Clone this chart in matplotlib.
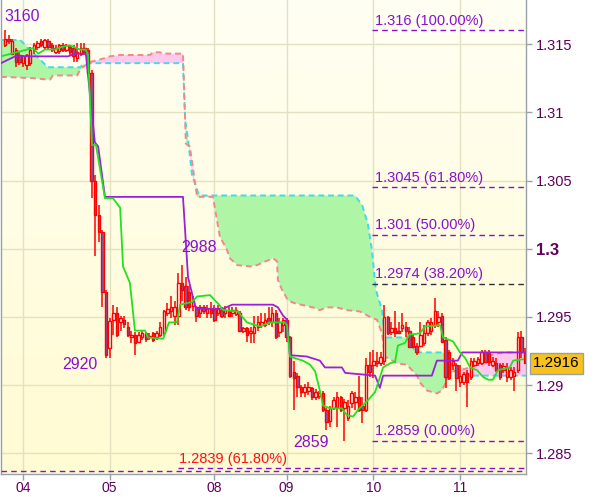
import numpy as np
import matplotlib
matplotlib.use("Agg")
import matplotlib.pyplot as plt
from matplotlib.colors import LinearSegmentedColormap

plt.rcParams['font.family'] = ['Liberation Sans', 'DejaVu Sans']

# ---------------- data ----------------
first_bar = -5  # bar index of first candle (day "04" starts at bar 0)

opens = [1.3149, 1.3154, 1.3143, 1.3146, 1.3142, 1.3136, 1.3135, 1.3136, 1.3146, 1.3148,
         1.3152, 1.3148, 1.3152, 1.3149, 1.3144, 1.3145, 1.3149, 1.3146, 1.3148, 1.3147,
         1.3140, 1.3143, 1.3147, 1.3146, 1.3129, 1.3050, 1.3025, 1.3012, 1.2968, 1.2927,
         1.2948, 1.2953, 1.2946, 1.2948, 1.2943, 1.2935, 1.2937, 1.2932, 1.2935, 1.2938,
         1.2935, 1.2938, 1.2935, 1.2937, 1.2938, 1.2953, 1.2954, 1.2951, 1.2951, 1.2975,
         1.2973, 1.2968, 1.2958, 1.2957, 1.2953, 1.2957, 1.2953, 1.2956, 1.2956, 1.2953,
         1.2955, 1.2953, 1.2954, 1.2953, 1.2952, 1.2953, 1.2940, 1.2942, 1.2938, 1.2938,
         1.2943, 1.2944, 1.2944, 1.2949, 1.2946, 1.2953, 1.2939, 1.2944, 1.2948, 1.2935,
         1.2910, 1.2907, 1.2899, 1.2895, 1.2896, 1.2898, 1.2891, 1.2892, 1.2894, 1.2882,
         1.2874, 1.2883, 1.2884, 1.2891, 1.2883, 1.2876, 1.2887, 1.2888, 1.2891, 1.2885,
         1.2882, 1.2915, 1.2915, 1.2916, 1.2916, 1.2918, 1.2950, 1.2939, 1.2942, 1.2940,
         1.2942, 1.2943, 1.2940, 1.2935, 1.2929, 1.2929, 1.2931, 1.2938, 1.2940, 1.2944,
         1.2946, 1.2951, 1.2933, 1.2924, 1.2915, 1.2915, 1.2902, 1.2902, 1.2909, 1.2906,
         1.2915, 1.2916, 1.2916, 1.2924, 1.2924, 1.2915, 1.2916, 1.2915, 1.2911, 1.2906,
         1.2906, 1.2907, 1.2911, 1.2935, 1.2924]
highs = [1.3160, 1.3157, 1.3154, 1.3147, 1.3144, 1.3142, 1.3143, 1.3148, 1.3151, 1.3152,
         1.3154, 1.3154, 1.3154, 1.3151, 1.3149, 1.3150, 1.3151, 1.3150, 1.3149, 1.3149,
         1.3151, 1.3151, 1.3151, 1.3147, 1.3131, 1.3054, 1.3032, 1.3014, 1.2970, 1.2949,
         1.2959, 1.2957, 1.2951, 1.2951, 1.2946, 1.2940, 1.2939, 1.2939, 1.2940, 1.2939,
         1.2938, 1.2939, 1.2940, 1.2946, 1.2955, 1.2960, 1.2965, 1.2962, 1.2982, 1.2988,
         1.2979, 1.2973, 1.2965, 1.2958, 1.2959, 1.2959, 1.2959, 1.2961, 1.2959, 1.2959,
         1.2957, 1.2958, 1.2957, 1.2957, 1.2957, 1.2954, 1.2943, 1.2943, 1.2943, 1.2951,
         1.2951, 1.2953, 1.2953, 1.2957, 1.2957, 1.2955, 1.2949, 1.2949, 1.2949, 1.2936,
         1.2918, 1.2909, 1.2900, 1.2901, 1.2902, 1.2899, 1.2897, 1.2896, 1.2896, 1.2883,
         1.2885, 1.2891, 1.2895, 1.2892, 1.2890, 1.2889, 1.2896, 1.2895, 1.2907, 1.2891,
         1.2920, 1.2924, 1.2926, 1.2924, 1.2924, 1.2959, 1.2951, 1.2946, 1.2954, 1.2946,
         1.2953, 1.2946, 1.2943, 1.2937, 1.2931, 1.2946, 1.2944, 1.2948, 1.2949, 1.2964,
         1.2954, 1.2953, 1.2935, 1.2926, 1.2920, 1.2916, 1.2915, 1.2910, 1.2911, 1.2920,
         1.2920, 1.2921, 1.2926, 1.2926, 1.2926, 1.2921, 1.2920, 1.2916, 1.2916, 1.2916,
         1.2913, 1.2913, 1.2939, 1.2940, 1.2927]
lows = [1.3148, 1.3150, 1.3142, 1.3133, 1.3135, 1.3133, 1.3131, 1.3134, 1.3143, 1.3146,
        1.3148, 1.3146, 1.3146, 1.3144, 1.3143, 1.3143, 1.3144, 1.3144, 1.3142, 1.3137,
        1.3137, 1.3141, 1.3142, 1.3127, 1.3037, 1.2995, 1.3005, 1.2957, 1.2920, 1.2920,
        1.2937, 1.2935, 1.2940, 1.2942, 1.2935, 1.2931, 1.2922, 1.2931, 1.2933, 1.2932,
        1.2933, 1.2932, 1.2933, 1.2935, 1.2936, 1.2951, 1.2949, 1.2944, 1.2944, 1.2962,
        1.2955, 1.2954, 1.2954, 1.2946, 1.2949, 1.2952, 1.2949, 1.2949, 1.2946, 1.2951,
        1.2949, 1.2949, 1.2950, 1.2950, 1.2951, 1.2939, 1.2938, 1.2932, 1.2931, 1.2931,
        1.2940, 1.2942, 1.2943, 1.2944, 1.2943, 1.2934, 1.2935, 1.2939, 1.2932, 1.2905,
        1.2882, 1.2891, 1.2891, 1.2891, 1.2893, 1.2889, 1.2889, 1.2890, 1.2880, 1.2867,
        1.2869, 1.2882, 1.2869, 1.2880, 1.2859, 1.2874, 1.2883, 1.2882, 1.2880, 1.2872,
        1.2880, 1.2906, 1.2905, 1.2913, 1.2914, 1.2915, 1.2937, 1.2937, 1.2935, 1.2938,
        1.2939, 1.2935, 1.2927, 1.2927, 1.2922, 1.2928, 1.2929, 1.2936, 1.2937, 1.2942,
        1.2943, 1.2931, 1.2898, 1.2904, 1.2911, 1.2896, 1.2899, 1.2900, 1.2884, 1.2904,
        1.2913, 1.2914, 1.2915, 1.2916, 1.2914, 1.2913, 1.2910, 1.2904, 1.2909, 1.2902,
        1.2904, 1.2896, 1.2909, 1.2920, 1.2916]
closes = [1.3154, 1.3152, 1.3152, 1.3137, 1.3137, 1.3141, 1.3142, 1.3146, 1.3149, 1.3151,
          1.3149, 1.3153, 1.3148, 1.3146, 1.3147, 1.3149, 1.3146, 1.3149, 1.3144, 1.3141,
          1.3144, 1.3147, 1.3144, 1.3129, 1.3050, 1.3025, 1.3012, 1.2968, 1.2922, 1.2947,
          1.2953, 1.2937, 1.2949, 1.2945, 1.2937, 1.2937, 1.2931, 1.2937, 1.2938, 1.2934,
          1.2936, 1.2933, 1.2938, 1.2943, 1.2954, 1.2956, 1.2957, 1.2957, 1.2975, 1.2970,
          1.2957, 1.2957, 1.2962, 1.2951, 1.2957, 1.2954, 1.2956, 1.2953, 1.2948, 1.2956,
          1.2951, 1.2955, 1.2951, 1.2955, 1.2955, 1.2940, 1.2942, 1.2937, 1.2940, 1.2943,
          1.2946, 1.2946, 1.2948, 1.2946, 1.2953, 1.2935, 1.2946, 1.2948, 1.2935, 1.2907,
          1.2905, 1.2899, 1.2895, 1.2899, 1.2899, 1.2891, 1.2895, 1.2894, 1.2882, 1.2873,
          1.2883, 1.2889, 1.2891, 1.2882, 1.2888, 1.2885, 1.2894, 1.2891, 1.2882, 1.2882,
          1.2915, 1.2910, 1.2918, 1.2918, 1.2921, 1.2950, 1.2938, 1.2942, 1.2938, 1.2938,
          1.2944, 1.2940, 1.2928, 1.2928, 1.2924, 1.2937, 1.2938, 1.2946, 1.2946, 1.2954,
          1.2950, 1.2932, 1.2906, 1.2905, 1.2918, 1.2905, 1.2907, 1.2908, 1.2902, 1.2918,
          1.2918, 1.2919, 1.2924, 1.2917, 1.2917, 1.2918, 1.2911, 1.2906, 1.2914, 1.2913,
          1.2911, 1.2910, 1.2935, 1.2924, 1.2916]

# Ichimoku lines as (bar, price) vertices
tenkan_x = [-6.1, 1.1, 2.8, 4.2, 6.1, 8.9, 10.8, 13.0, 15.8, 17.4, 18.0, 19.1, 20.2, 22.7, 24.9,
            26.9, 27.7, 29.6, 31.0, 33.8, 34.6, 38.8, 39.9, 40.4, 42.6, 43.5, 46.8, 48.2, 51.8,
            53.2, 54.3, 55.4, 59.5, 62.0, 65.6, 68.4, 72.5, 73.1, 73.9, 77.5, 79.5, 80.9, 82.2,
            83.1, 85.0, 88.3, 89.7, 91.4, 92.8, 95.2, 97.5, 99.7, 101.6, 103.0, 103.8, 105.8,
            106.9, 109.9, 111.3, 115.5, 116.3, 119.1, 121.0, 122.4, 123.8, 125.7, 127.4, 128.8,
            130.1, 131.5, 134.8, 135.7, 138.4]
tenkan_y = [1.3141, 1.3146, 1.3147, 1.3143, 1.3146, 1.3146, 1.3148, 1.3149, 1.3146, 1.3146,
            1.3142, 1.3076, 1.3076, 1.3037, 1.3037, 1.3030, 1.2987, 1.2975, 1.2940, 1.2940,
            1.2935, 1.2934, 1.2942, 1.2946, 1.2946, 1.2959, 1.2961, 1.2965, 1.2966, 1.2962,
            1.2959, 1.2955, 1.2954, 1.2946, 1.2943, 1.2946, 1.2946, 1.2944, 1.2921, 1.2918,
            1.2915, 1.2910, 1.2896, 1.2885, 1.2883, 1.2883, 1.2878, 1.2877, 1.2882, 1.2888,
            1.2895, 1.2913, 1.2916, 1.2917, 1.2929, 1.2931, 1.2937, 1.2938, 1.2943, 1.2944,
            1.2935, 1.2932, 1.2924, 1.2920, 1.2913, 1.2911, 1.2906, 1.2904, 1.2904, 1.2911,
            1.2913, 1.2918, 1.2919]

kijun_x = [-6.1, -2.2, 12.5, 14.4, 17.4, 19.9, 20.8, 22.7, 44.3, 45.7, 47.1, 47.9, 55.4, 57.9,
           69.2, 70.6, 72.0, 73.1, 73.9, 78.6, 82.2, 83.6, 88.3, 89.2, 97.5, 98.8, 99.7, 113.2,
           114.6, 120.4, 121.6, 139.3]
kijun_y = [1.3136, 1.3141, 1.3141, 1.3143, 1.3143, 1.3078, 1.3075, 1.3038, 1.3038, 1.2979,
           1.2964, 1.2956, 1.2956, 1.2959, 1.2959, 1.2957, 1.2951, 1.2948, 1.2922, 1.2921,
           1.2918, 1.2913, 1.2913, 1.2909, 1.2907, 1.2898, 1.2907, 1.2907, 1.2918, 1.2918,
           1.2924, 1.2924]

span_a_x = [-6.1, 2.8, 6.6, 7.5, 8.3, 15.0, 15.8, 16.6, 18.6, 20.5, 24.1, 26.9, 35.2, 36.0,
            37.9, 38.8, 44.3, 45.1, 46.2, 48.2, 52.6, 53.7, 54.5, 56.5, 57.3, 59.3, 62.9, 64.8,
            66.5, 69.2, 70.3, 70.6, 71.7, 73.4, 75.3, 80.3, 82.2, 84.2, 86.9, 89.7, 93.3, 96.1,
            98.0, 99.4, 100.2, 103.6, 106.3, 109.1, 109.9, 111.9, 114.6, 116.0, 117.4, 119.1,
            121.0, 123.8, 126.5, 129.3, 132.9, 139.3]
span_a_y = [1.3126, 1.3125, 1.3124, 1.3124, 1.3127, 1.3127, 1.3131, 1.3133, 1.3137, 1.3138,
            1.3141, 1.3142, 1.3142, 1.3144, 1.3144, 1.3143, 1.3143, 1.3077, 1.3075, 1.3038,
            1.3038, 1.3021, 1.3009, 1.2999, 1.2993, 1.2988, 1.2987, 1.2988, 1.2990, 1.2993,
            1.2991, 1.2977, 1.2970, 1.2962, 1.2960, 1.2957, 1.2955, 1.2957, 1.2957, 1.2955,
            1.2954, 1.2950, 1.2948, 1.2938, 1.2921, 1.2916, 1.2915, 1.2907, 1.2902, 1.2896,
            1.2894, 1.2896, 1.2904, 1.2910, 1.2911, 1.2913, 1.2918, 1.2922, 1.2924, 1.2924]

span_b_x = [-6.1, -0.8, 6.9, 15.8, 16.6, 18.6, 44.3, 44.9, 45.7, 46.8, 48.5,
            49.0, 91.9, 93.9, 95.5, 96.6, 97.7, 99.4, 100.2, 106.3, 107.7, 108.5, 116.3, 120.2,
            123.8, 139.3]
span_b_y = [1.3153, 1.3153, 1.3133, 1.3133, 1.3135, 1.3136, 1.3136,
            1.3094, 1.3080, 1.3054, 1.3041, 1.3039, 1.3039, 1.3032, 1.3018, 1.2999, 1.2970,
            1.2955, 1.2935, 1.2935, 1.2929, 1.2924, 1.2924, 1.2909, 1.2907, 1.2907]

# Fibonacci levels
fib_levels = [1.316, 1.3045, 1.301, 1.2974, 1.2859]
fib_pcts = ['100.00%', '61.80%', '50.00%', '38.20%', '0.00%']
fib2_levels = [1.2839, 1.2837]
fib2_label = '1.2839 (61.80%)'

# price extremes labels
extreme_labels = ['3160', '2920', '2988', '2859']
last_price = '1.2916'

# axis ticks
day_ticks = [0, 24, 53, 73, 97, 121]
day_labels = ['04', '05', '08', '09', '10', '11']
price_ticks = [1.285, 1.29, 1.295, 1.3, 1.305, 1.31, 1.315]
price_labels = ['1.285', '1.29', '1.295', '1.3', '1.305', '1.31', '1.315']

# ---------------- figure ----------------
W, H = 600, 497
fig = plt.figure(figsize=(W / 100, H / 100), dpi=100)
fig.patch.set_facecolor('white')
ax = fig.add_axes([1 / W, 1 - 474 / H, 525 / W, 474 / H])

XMIN, XMAX = -6.09, 139.27
YMIN, YMAX = 1.28349, 1.31823

# background gradient
grad = np.linspace(0, 1, 256).reshape(-1, 1)
cmap_bg = LinearSegmentedColormap.from_list('bg', ['#FFFFF3', '#FFFBD2'])
ax.imshow(grad, extent=[XMIN, XMAX, YMIN, YMAX], aspect='auto', cmap=cmap_bg,
          origin='upper', zorder=0, interpolation='bilinear')

# grid
for t in day_ticks:
    ax.axvline(t, color='#E2E2C2', lw=1, zorder=1)
for t in price_ticks:
    ax.axhline(t, color='#E2E2C2', lw=1, zorder=1)

# cloud
xs = np.linspace(XMIN, XMAX, 3000)
a = np.interp(xs, span_a_x, span_a_y)
b = np.interp(xs, span_b_x, span_b_y)
ax.fill_between(xs, a, b, where=b >= a, interpolate=True, color='#AEF5A6', lw=0, zorder=2)
ax.fill_between(xs, a, b, where=a > b, interpolate=True, color='#FFC8EC', lw=0, zorder=2)
ax.plot(span_b_x, span_b_y, color='#3CDCEC', lw=1.4, dashes=(3, 2), zorder=3)
ax.plot(span_a_x, span_a_y, color='#F08A8A', lw=1.4, dashes=(3, 2), zorder=3)

# fib lines
fib_x0 = 96.6
for lvl, pct in zip(fib_levels, fib_pcts):
    col = '#303030' if pct == '38.20%' else '#8A10D0'
    ax.plot([fib_x0, XMAX], [lvl, lvl], color=col, lw=1, dashes=(4, 3), zorder=3)
    ax.annotate(f"{lvl:g} ({pct})", xy=(fib_x0 + 0.9, lvl), xytext=(0, 2),
                textcoords='offset points', ha='left', va='bottom',
                fontsize=10.5, color='#8A10D0', zorder=6)
ax.plot([42.9, XMAX], [fib2_levels[0]] * 2, color='#8A10D0', lw=1, dashes=(4, 3), zorder=3)
ax.plot([XMIN, XMAX], [fib2_levels[1]] * 2, color='#8A10D0', lw=1, dashes=(4, 3), zorder=3)
ax.annotate(fib2_label, xy=(43.2, fib2_levels[0]), xytext=(0, 2), textcoords='offset points',
            ha='left', va='bottom', fontsize=10.5, color='#FF1010', zorder=6)

# candles
idx = np.arange(first_bar, first_bar + len(opens))
o = np.array(opens); h = np.array(highs); l = np.array(lows); c = np.array(closes)
ax.vlines(idx, l, h, color='#FF0000', lw=1.1, zorder=4)
bull = c >= o
bottoms = np.minimum(o, c)
heights = np.maximum(np.abs(c - o), 0.00004)
ax.bar(idx[bull], heights[bull], bottom=bottoms[bull], width=0.68,
       color='#FFFFF0', edgecolor='#FF0000', lw=1.0, zorder=5)
ax.bar(idx[~bull], heights[~bull], bottom=bottoms[~bull], width=0.68,
       color='#6E62B4', edgecolor='#FF0000', lw=1.0, zorder=5)

# tenkan / kijun
ax.plot(kijun_x, kijun_y, color='#9B20D8', lw=1.3, zorder=6)
ax.plot(tenkan_x, tenkan_y, color='#22E022', lw=1.3, zorder=6)

# extreme labels
lab_pos = [(-5.0, 1.3170), (10.8, 1.2915), (43.7, 1.3001), (74.8, 1.2858)]
for txt, (px, py) in zip(extreme_labels, lab_pos):
    ax.text(px, py, txt, ha='left', va='center', fontsize=11.5, color='#8A10D0', zorder=7)

# axes formatting
ax.set_xlim(XMIN, XMAX)
ax.set_ylim(YMIN, YMAX)
ax.yaxis.tick_right()
ax.set_yticks(price_ticks)
ax.set_yticklabels(price_labels)
ax.set_xticks(day_ticks)
ax.set_xticklabels(day_labels)
ax.tick_params(axis='both', colors='#98A0A8', labelcolor='#600060', labelsize=10.5,
               length=4, width=1)
ax.tick_params(axis='y', pad=3)
ax.tick_params(axis='x', pad=1, labelsize=10)
for lab in ax.get_yticklabels():
    if lab.get_text() == '1.3':
        lab.set_fontweight('bold')
        lab.set_fontsize(12)
for side in ['left', 'right', 'bottom']:
    ax.spines[side].set_color('#98A0A8')
    ax.spines[side].set_linewidth(1)
ax.spines['top'].set_visible(False)

# last price marker
ax.annotate(last_price, xy=(1.0, float(closes[-1])), xycoords=('axes fraction', 'data'),
            xytext=(5, 0), textcoords='offset points', ha='left', va='center',
            fontsize=11, color='black', annotation_clip=False,
            bbox=dict(boxstyle='square,pad=0.22', fc='#F7C21E', ec='#9AA0A6', lw=1))

fig.savefig('out.png', dpi=100)
